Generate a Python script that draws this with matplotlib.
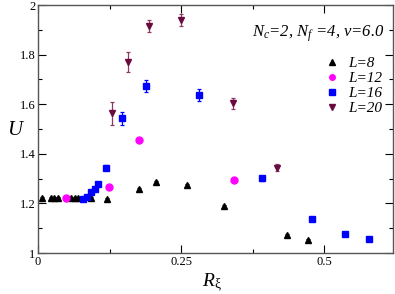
import matplotlib
matplotlib.use("Agg")
import matplotlib.pyplot as plt
from matplotlib.ticker import MultipleLocator
from matplotlib.lines import Line2D

x8 = [0.007, 0.022, 0.028, 0.035, 0.058, 0.064, 0.070, 0.092, 0.120, 0.177, 0.206, 0.260, 0.325, 0.434, 0.471]
y8 = [1.223, 1.223, 1.223, 1.223, 1.223, 1.223, 1.222, 1.222, 1.218, 1.257, 1.287, 1.274, 1.190, 1.073, 1.052]
e8 = [0.004, 0.004, 0.004, 0.004, 0.004, 0.004, 0.004, 0.004, 0.004, 0.004, 0.004, 0.004, 0.004, 0.004, 0.004]

x12 = [0.049, 0.124, 0.176, 0.343]
y12 = [1.220, 1.267, 1.454, 1.294]
e12 = [0.004, 0.005, 0.006, 0.006]

x16 = [0.079, 0.085, 0.092, 0.099, 0.105, 0.119, 0.146, 0.188, 0.282, 0.392, 0.479, 0.536, 0.578]
y16 = [1.218, 1.227, 1.245, 1.260, 1.280, 1.343, 1.543, 1.675, 1.638, 1.301, 1.136, 1.078, 1.055]
e16 = [0.004, 0.004, 0.005, 0.005, 0.006, 0.010, 0.027, 0.024, 0.024, 0.010, 0.004, 0.004, 0.004]

x20 = [0.129, 0.158, 0.194, 0.250, 0.340, 0.417]
y20 = [1.563, 1.769, 1.915, 1.941, 1.604, 1.344]
e20 = [0.047, 0.040, 0.024, 0.024, 0.022, 0.015]

labels = ["L=8", "L=12", "L=16", "L=20"]

plt.rcParams['font.family'] = ['Liberation Serif', 'DejaVu Serif']
plt.rcParams['mathtext.fontset'] = 'custom'
plt.rcParams['mathtext.rm'] = 'Liberation Serif'
plt.rcParams['mathtext.it'] = 'Liberation Serif:italic'

fig = plt.figure(figsize=(3.95, 2.94), dpi=100)
ax = fig.add_axes([38/395, 1-253/294, (393-38)/395, (253-5)/294])

series = [
    (x8, y8, e8, '^', 'black', 'black'),
    (x12, y12, e12, 'o', '#ff00ff', '#ff00ff'),
    (x16, y16, e16, 's', '#0000ff', '#0000ff'),
    (x20, y20, e20, 'v', '#6b0a3f', '#8a3a64'),
]
handles = []
for (xs, ys, es, m, c, ec), lab in zip(series, labels):
    ax.errorbar(xs, ys, yerr=es, fmt=m, color=c, ecolor=ec, markersize=5,
                elinewidth=0.9, capsize=1.5, capthick=0.9, label=lab)
    handles.append(Line2D([], [], linestyle='none', marker=m, color=c, markersize=4))

ax.set_xlim(0, 0.62)
ax.set_ylim(1, 2)
ax.xaxis.set_minor_locator(MultipleLocator(0.125))
ax.yaxis.set_minor_locator(MultipleLocator(0.1))
ax.tick_params(which='both', direction='in', top=True, right=True, labelsize=9, pad=2)
ax.tick_params(which='major', length=6, width=0.8)
ax.tick_params(which='minor', length=3, width=0.8)
ax.set_xticks([0, 0.25, 0.5])
ax.set_xticklabels(['0', '0.25', '0.5'])
ax.set_yticks([1, 1.2, 1.4, 1.6, 1.8, 2])
ax.set_yticklabels(['1', '1.2', '1.4', '1.6', '1.8', '2'])
for sp in ax.spines.values():
    sp.set_color('#555555')
    sp.set_linewidth(1.0)

ax.set_ylabel('$U$', fontsize=15, rotation=0, va='center', ha='center')
ax.yaxis.set_label_coords(-0.062, 0.495)
ax.set_xlabel(r'$R_{\mathrm{ξ}}$', fontsize=14, labelpad=0)
ax.xaxis.set_label_coords(0.49, -0.075)
ax.xaxis.label.set_va('top')

ax.text(0.975, 0.885, '$N_c$=2, $N_f$ =4, $v$=6.0', transform=ax.transAxes,
        ha='right', va='center', fontsize=12, style='italic')

leg = ax.legend(handles=handles, labels=labels, loc='upper left',
                bbox_to_anchor=(0.808, 0.792), frameon=False,
                handletextpad=0.5, labelspacing=0.08, handlelength=1.0,
                borderaxespad=0, borderpad=0,
                prop={'style': 'italic', 'size': 11})

fig.savefig('out.png', dpi=100)
